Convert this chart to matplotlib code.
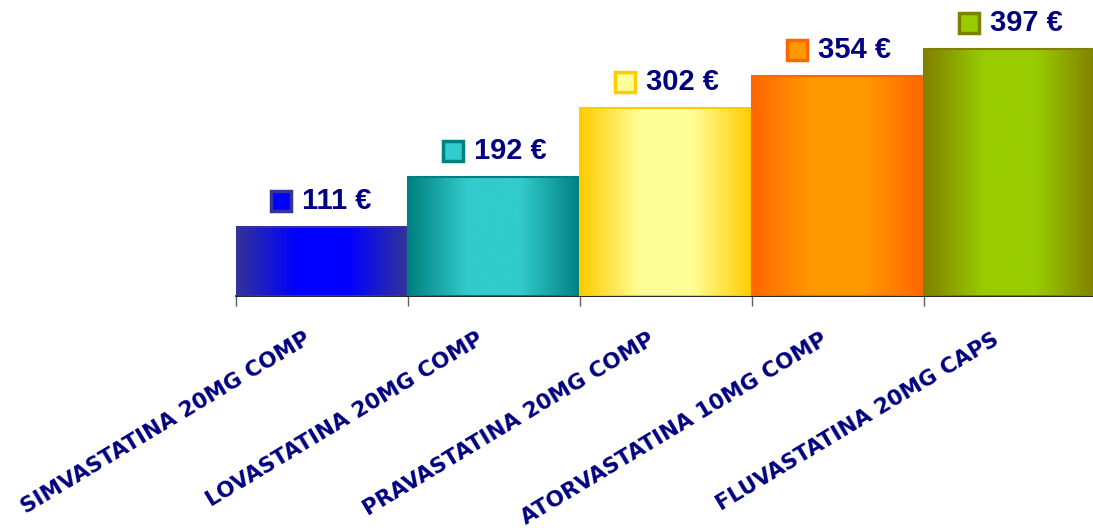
import numpy as np
import matplotlib.pyplot as plt
from matplotlib.colors import LinearSegmentedColormap
from matplotlib.transforms import offset_copy

# chart data
drugs = ["SIMVASTATINA 20MG COMP", "LOVASTATINA 20MG COMP", "PRAVASTATINA 20MG COMP",
         "ATORVASTATINA 10MG COMP", "FLUVASTATINA 20MG CAPS"]
costs = [111, 192, 302, 354, 397]
edge_colors = ["#333399", "#008080", "#FFCC00", "#FF6600", "#808000"]
mid_colors = ["#0000FF", "#33CCCC", "#FFFF99", "#FF9900", "#99CC00"]
navy = "#000080"

fig = plt.figure(figsize=(10.93, 5.28), dpi=100)
W, H = 1093, 528
# axes: left edge at x=236px, baseline at y=296px, each bar 172px wide
ax = fig.add_axes([236 / W, (H - 296) / H, 860 / W, 296 / H])
ax.set_xlim(-0.5, 4.5)
ax.set_ylim(0, 296 / 0.622)

bars = ax.bar(range(len(costs)), costs, width=1.0, color="none",
              edgecolor=edge_colors, linewidth=1.5, zorder=3)

grad = np.linspace(0, 1, 256).reshape(1, -1)
for b, ec, mc in zip(bars, edge_colors, mid_colors):
    cmap = LinearSegmentedColormap.from_list("g", [(0, ec), (0.35, mc), (0.65, mc), (1, ec)])
    x0, w, h = b.get_x(), b.get_width(), b.get_height()
    ax.imshow(grad, cmap=cmap, extent=(x0, x0 + w, 0, h), aspect="auto",
              interpolation="bicubic", zorder=2)

ax.set_xlim(-0.5, 4.5)
ax.set_ylim(0, 296 / 0.622)

# value labels with little legend squares
for i, (v, ec, mc) in enumerate(zip(costs, edge_colors, mid_colors)):
    ax.annotate(f"{v} €", xy=(i, v), xytext=(-20, 26), textcoords="offset pixels",
                ha="left", va="center", fontsize=21, fontweight="bold",
                family="Liberation Sans", color=navy)
    tr = offset_copy(ax.transData, fig=fig, x=-41, y=26, units="dots")
    ax.plot([i], [v], marker="s", markersize=15, markerfacecolor=mc,
            markeredgecolor=ec, markeredgewidth=2.5, transform=tr, clip_on=False)

# category labels
for i, name in enumerate(drugs):
    ax.annotate(name, xy=(i, 0), xytext=(-18, -33), textcoords="offset pixels",
                ha="right", va="top", rotation=31, rotation_mode="anchor",
                fontsize=15.5, fontweight="bold", family="DejaVu Sans", color=navy)

for s in ["top", "right", "left"]:
    ax.spines[s].set_visible(False)
ax.spines["bottom"].set_color("black")
ax.spines["bottom"].set_linewidth(1.2)
ax.set_yticks([])
ax.set_xticks([])
ax.set_xticks(np.arange(-0.5, 5.0, 1.0), minor=True)
ax.tick_params(axis="x", which="minor", length=7, width=1, color="#606060")

fig.savefig("out.png", dpi=100)
